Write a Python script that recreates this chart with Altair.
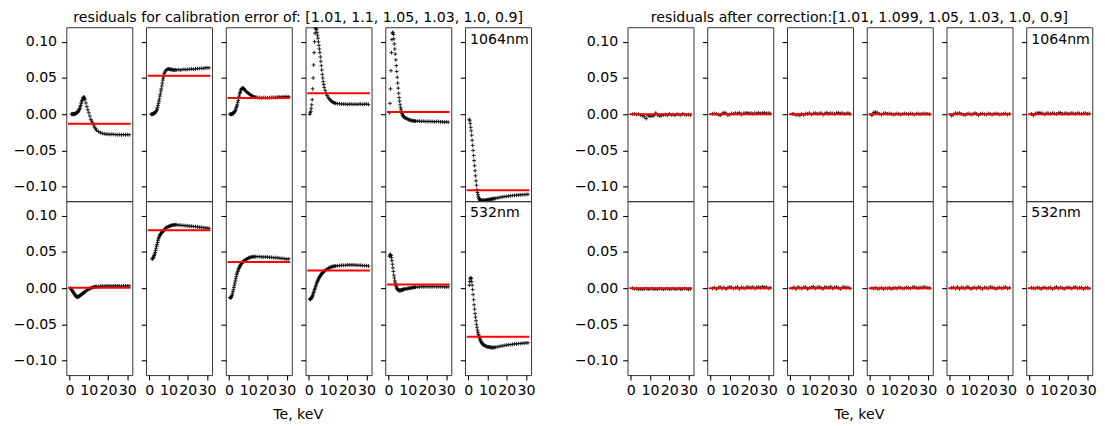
import altair as alt
import pandas as pd

FONT = "DejaVu Sans"
FS = 14.3

# ---------------- data ----------------
TE_RAW = [0.5, 0.75, 1.0, 1.25, 1.5, 1.75, 2.0, 2.25, 2.5, 2.75, 3.0, 3.25, 3.5, 3.75,
          4.0, 4.25, 4.5, 4.75, 5.0, 5.25, 5.5, 5.75, 6.0, 6.25, 6.5, 6.75, 7.0, 7.25,
          7.5, 7.75, 8.0, 8.5, 9.0, 9.5, 10.0, 10.5, 11.0, 11.5, 12.0, 12.5, 13.0, 13.5,
          14.0, 15, 16, 17, 18, 19, 20, 21, 22, 23, 24, 25, 26, 27, 28, 29, 30, 31]

TE_COR = [1, 2, 3, 4, 5, 6, 7, 8, 9, 10, 11, 12, 13, 14, 15, 16, 17, 18, 19, 20,
          21, 22, 23, 24, 25, 26, 27, 28, 29, 30, 31]

# residuals before correction, 1064nm row
RAW_1064 = [
    [None, None, 0.000, 0.000, 0.000, 0.0005, 0.000, 0.0005, 0.000, 0.0005, 0.001, 0.001, 0.0015, 0.002,
     0.0025, 0.003, 0.004, 0.005, 0.0065, 0.008, 0.010, 0.012, 0.0145, 0.017, 0.019, 0.021, 0.0225, 0.0235,
     0.0235, 0.022, 0.020, 0.0155, 0.0105, 0.006, 0.002, -0.0025, -0.007, -0.0095, -0.012, -0.015, -0.018, -0.020,
     -0.022, -0.024, -0.0255, -0.0265, -0.027, -0.0275, -0.0275, -0.028, -0.0275, -0.028, -0.028, -0.0285, -0.028,
     -0.0285, -0.028, -0.0285, -0.028, -0.0285],
    [None, None, 0.000, 0.000, 0.000, 0.000, 0.001, 0.001, 0.001, 0.002, 0.002, 0.003, 0.004, 0.005,
     0.007, 0.009, 0.012, 0.015, 0.018, 0.021, 0.025, 0.028, 0.032, 0.035, 0.039, 0.043, 0.047, 0.050,
     0.053, 0.056, 0.058, 0.060, 0.0615, 0.062, 0.0625, 0.062, 0.062, 0.0615, 0.0615, 0.061, 0.061, 0.0615,
     0.061, 0.0615, 0.061, 0.0615, 0.062, 0.0615, 0.062, 0.062, 0.0625, 0.062, 0.0625, 0.063, 0.063,
     0.0635, 0.063, 0.064, 0.064, 0.064],
    [0.000, 0.000, 0.000, 0.000, 0.000, 0.001, 0.001, 0.001, 0.002, 0.003, 0.004, 0.005, 0.007, 0.009,
     0.011, 0.013, 0.016, 0.019, 0.022, 0.025, 0.028, 0.030, 0.032, 0.034, 0.035, 0.0355, 0.036, 0.036,
     0.0355, 0.035, 0.034, 0.0325, 0.031, 0.030, 0.029, 0.028, 0.027, 0.026, 0.025, 0.0245, 0.024, 0.0235,
     0.0235, 0.023, 0.023, 0.0225, 0.023, 0.023, 0.0225, 0.023, 0.023, 0.0235, 0.023, 0.0235, 0.024,
     0.0235, 0.024, 0.024, 0.0245, 0.024],
    [0.000, 0.002, 0.004, 0.008, 0.013, 0.020, 0.035, 0.050, 0.068, 0.085, 0.100, 0.112, 0.118, 0.119,
     0.117, 0.113, 0.109, 0.105, 0.100, 0.095, 0.090, 0.085, 0.079, 0.073, 0.067, 0.061, 0.055, 0.050,
     0.045, 0.041, 0.037, 0.033, 0.029, 0.026, 0.0235, 0.0215, 0.020, 0.0185, 0.0175, 0.0165, 0.016, 0.0155,
     0.015, 0.0145, 0.0145, 0.014, 0.014, 0.014, 0.0135, 0.014, 0.014, 0.0135, 0.014, 0.0135, 0.014,
     0.014, 0.0135, 0.014, 0.014, 0.0135],
    [0.002, 0.015, 0.035, 0.060, 0.085, 0.103, 0.112, 0.113, 0.110, 0.104, 0.097, 0.090, 0.083, 0.075,
     0.067, 0.059, 0.051, 0.043, 0.036, 0.029, 0.023, 0.018, 0.013, 0.009, 0.006, 0.003, 0.001, -0.001,
     -0.002, -0.003, -0.004, -0.005, -0.0055, -0.006, -0.0068, -0.0075, -0.008, -0.0085, -0.0088, -0.009, -0.009,
     -0.0092, -0.0095, -0.0095, -0.0095, -0.010, -0.0095, -0.010, -0.010, -0.0098, -0.0102, -0.010, -0.0105,
     -0.010, -0.0102, -0.0105, -0.0105, -0.011, -0.0105, -0.011],
    [-0.007, -0.009, -0.013, -0.018, -0.023, -0.029, -0.036, -0.043, -0.050, -0.057, -0.064, -0.071, -0.078,
     -0.085, -0.092, -0.098, -0.104, -0.108, -0.111, -0.114, -0.116, -0.117, -0.118, -0.119, -0.119, -0.119,
     -0.1195, -0.1195, -0.119, -0.119, -0.119, -0.119, -0.1185, -0.1185, -0.118, -0.118, -0.1175, -0.1175,
     -0.117, -0.117, -0.1165, -0.1165, -0.116, -0.1155, -0.115, -0.1145, -0.114, -0.1137, -0.1133, -0.113,
     -0.1125, -0.1122, -0.112, -0.1117, -0.1115, -0.1113, -0.111, -0.111, -0.1108, -0.1105],
]

# residuals before correction, 532nm row
RAW_532 = [
    [0.000, -0.001, -0.002, -0.003, -0.004, -0.005, -0.006, -0.007, -0.008, -0.009, -0.010, -0.011, -0.0115,
     -0.012, -0.012, -0.012, -0.012, -0.0115, -0.011, -0.0105, -0.010, -0.0095, -0.009, -0.0085, -0.008,
     -0.0075, -0.007, -0.0065, -0.006, -0.0055, -0.005, -0.004, -0.003, -0.002, -0.0015, -0.0008, 0.000,
     0.0005, 0.001, 0.0014, 0.0018, 0.002, 0.0022, 0.0025, 0.0027, 0.003, 0.0028, 0.003, 0.0032, 0.003,
     0.0028, 0.003, 0.0032, 0.003, 0.003, 0.0028, 0.0032, 0.003, 0.003, 0.0032],
    [None, None, None, None, 0.040, 0.041, 0.042, 0.043, 0.045, 0.047, 0.049, 0.052, 0.055, 0.058,
     0.060, 0.063, 0.066, 0.068, 0.070, 0.072, 0.073, 0.074, 0.075, 0.076, 0.077, 0.078, 0.0785, 0.079,
     0.0795, 0.080, 0.081, 0.083, 0.084, 0.0845, 0.085, 0.0855, 0.086, 0.0865, 0.087, 0.087, 0.0875, 0.0875,
     0.0875, 0.087, 0.087, 0.0865, 0.0865, 0.086, 0.086, 0.0855, 0.0855, 0.085, 0.085, 0.0845, 0.084,
     0.084, 0.0835, 0.083, 0.083, 0.0825],
    [-0.013, -0.0135, -0.013, -0.012, -0.010, -0.008, -0.005, -0.002, 0.001, 0.004, 0.007, 0.010, 0.013,
     0.016, 0.019, 0.021, 0.023, 0.025, 0.027, 0.028, 0.0295, 0.031, 0.032, 0.033, 0.034, 0.035, 0.0355,
     0.036, 0.037, 0.0375, 0.038, 0.039, 0.040, 0.0405, 0.0415, 0.042, 0.0425, 0.043, 0.043, 0.0435, 0.0435,
     0.0435, 0.0435, 0.0435, 0.0435, 0.043, 0.043, 0.043, 0.043, 0.0425, 0.0425, 0.042, 0.042, 0.042,
     0.0415, 0.041, 0.041, 0.0405, 0.040, 0.0405],
    [-0.015, -0.0155, -0.015, -0.014, -0.013, -0.0115, -0.010, -0.008, -0.006, -0.004, -0.002, 0.000, 0.002,
     0.004, 0.006, 0.008, 0.0095, 0.011, 0.0125, 0.014, 0.015, 0.016, 0.017, 0.018, 0.019, 0.020, 0.021,
     0.0215, 0.022, 0.023, 0.0235, 0.0245, 0.0255, 0.026, 0.027, 0.028, 0.0285, 0.029, 0.0295, 0.030, 0.030,
     0.0305, 0.0305, 0.031, 0.031, 0.0315, 0.0315, 0.0315, 0.032, 0.032, 0.032, 0.032, 0.032, 0.0315,
     0.0315, 0.0315, 0.031, 0.031, 0.031, 0.0305],
    [0.044, 0.046, 0.0465, 0.045, 0.042, 0.038, 0.033, 0.028, 0.023, 0.018, 0.014, 0.010, 0.007, 0.004,
     0.002, 0.000, -0.001, -0.002, -0.0025, -0.003, -0.003, -0.0032, -0.0032, -0.003, -0.003, -0.0028,
     -0.0025, -0.0023, -0.002, -0.0018, -0.0015, -0.0013, -0.001, -0.0008, -0.0005, -0.0003, 0.000, 0.0002,
     0.0005, 0.0008, 0.001, 0.0012, 0.0013, 0.0015, 0.0017, 0.002, 0.0018, 0.002, 0.0022, 0.002, 0.0018,
     0.002, 0.0022, 0.002, 0.0018, 0.002, 0.002, 0.0018, 0.0015, 0.0018],
    [0.004, 0.009, 0.013, 0.0145, 0.013, 0.009, 0.004, -0.002, -0.009, -0.016, -0.023, -0.029, -0.035,
     -0.040, -0.045, -0.050, -0.054, -0.058, -0.061, -0.064, -0.066, -0.068, -0.070, -0.0715, -0.073,
     -0.0745, -0.0755, -0.0765, -0.0775, -0.078, -0.0785, -0.079, -0.080, -0.0805, -0.081, -0.081, -0.0815,
     -0.0815, -0.082, -0.082, -0.082, -0.082, -0.0815, -0.081, -0.0805, -0.080, -0.0795, -0.079, -0.0785,
     -0.078, -0.078, -0.0775, -0.077, -0.077, -0.0765, -0.0765, -0.076, -0.076, -0.0755, -0.0755],
]

RAW_MEAN_1064 = [-0.013, 0.053, 0.0225, 0.029, 0.003, -0.105]
RAW_MEAN_532 = [0.0005, 0.080, 0.036, 0.0245, 0.005, -0.067]

# residuals after correction
COR_1064 = [
    [0.000, 0.0005, -0.0005, 0.000, -0.001, -0.002, -0.0035, -0.006, -0.002, -0.003, -0.0025, -0.002, 0.0015,
     -0.001, -0.0025, -0.0015, -0.001, -0.0005, -0.0015, 0.0005, -0.001, -0.0005, -0.0015, 0.000, -0.0005,
     -0.001, 0.0005, -0.0005, -0.001, -0.0005, -0.001],
    [0.0005, 0.001, 0.0005, -0.0005, -0.0015, 0.001, 0.002, 0.0015, -0.001, -0.0005, 0.001, 0.0005, 0.0015,
     0.001, 0.002, -0.0005, 0.001, 0.0015, 0.002, 0.001, 0.0015, 0.0005, 0.0015, 0.001, 0.002, 0.001, 0.0015,
     0.002, 0.001, 0.0015, 0.001],
    [0.0005, 0.000, -0.001, -0.0005, -0.0015, 0.0005, -0.001, 0.001, 0.0005, 0.0015, -0.0005, 0.001, 0.0015,
     0.0005, 0.001, 0.0015, -0.0005, 0.001, 0.002, 0.0005, 0.0015, 0.001, 0.0005, 0.0015, 0.002, 0.001,
     0.0015, 0.0005, 0.001, 0.0015, 0.0005],
    [-0.0015, 0.0025, 0.003, 0.0015, 0.0005, -0.0005, 0.001, 0.0015, 0.0005, 0.001, 0.0005, -0.0005, 0.000,
     0.001, 0.0005, -0.0005, 0.0005, 0.001, 0.0005, 0.000, 0.001, 0.0005, -0.0005, 0.0005, 0.001, 0.000,
     0.0005, 0.001, 0.0005, 0.0005, 0.000],
    [-0.002, -0.0005, 0.0015, 0.001, 0.0015, 0.0005, -0.0005, -0.001, 0.0005, 0.001, -0.0005, 0.000, 0.0015,
     0.0005, -0.001, 0.0005, 0.001, 0.000, -0.0005, 0.001, 0.0005, -0.0005, 0.0005, 0.001, 0.0005, -0.0005,
     0.000, 0.0005, 0.001, -0.0005, 0.0005],
    [0.0005, -0.0015, 0.001, 0.0015, 0.002, 0.0015, 0.001, -0.0005, 0.0015, 0.001, 0.0005, 0.0015, 0.001,
     0.0005, 0.0015, 0.002, 0.0005, 0.001, 0.0015, 0.0005, 0.001, 0.0015, 0.001, 0.0005, 0.0015, 0.001,
     0.0005, 0.001, 0.0015, 0.0005, 0.001],
]
COR_532 = [
    [0.000, -0.001, -0.0005, -0.0015, -0.001, -0.0015, -0.001, -0.0005, -0.0015, -0.001, -0.0005, -0.0015,
     -0.001, -0.0015, -0.0005, -0.001, -0.0015, -0.001, -0.0005, -0.0015, -0.001, -0.0005, -0.0015, -0.001,
     -0.0005, -0.0015, -0.001, -0.0005, -0.001, -0.0015, -0.001],
    [-0.0005, 0.001, -0.001, 0.0005, 0.0015, -0.0005, 0.001, -0.001, 0.0005, 0.0015, 0.001, -0.0005, 0.0005,
     0.0015, -0.001, 0.001, 0.0005, -0.0005, 0.0015, 0.001, 0.0005, 0.0015, -0.0005, 0.001, 0.0015, 0.0005,
     0.002, 0.001, 0.0015, -0.0005, 0.0005],
    [0.000, 0.001, -0.001, 0.0015, 0.0005, -0.0005, 0.001, 0.0015, -0.001, 0.0005, 0.001, 0.002, -0.0005,
     0.001, 0.0015, 0.0005, -0.001, 0.0015, 0.001, 0.0005, 0.002, -0.0005, 0.001, 0.0015, 0.0005, -0.001,
     0.001, 0.0015, 0.0005, 0.001, -0.0005],
    [0.000, -0.0005, 0.0005, -0.001, -0.0005, 0.0005, -0.001, 0.000, -0.0005, 0.0005, -0.001, 0.000, 0.0005,
     -0.0005, 0.001, 0.0005, -0.0005, 0.000, 0.001, 0.0005, -0.0005, 0.001, 0.0015, 0.0005, 0.000, 0.001,
     0.0005, 0.0015, 0.001, 0.0005, 0.000],
    [0.0005, 0.001, -0.0005, 0.0015, -0.001, 0.001, 0.0005, -0.0005, 0.0015, 0.001, -0.001, 0.0005, 0.001,
     -0.0005, 0.0015, 0.0005, -0.001, 0.001, 0.0005, -0.0005, 0.0015, 0.001, 0.0005, -0.001, 0.0005, 0.001,
     -0.0005, 0.0005, 0.0015, -0.0005, 0.0005],
    [0.0005, 0.000, -0.0005, 0.001, 0.0005, -0.001, 0.0005, 0.001, -0.0005, 0.0005, 0.001, -0.001, 0.0005,
     0.0015, -0.0005, 0.001, 0.0005, -0.001, 0.0005, 0.001, 0.0005, -0.0005, 0.001, 0.0015, -0.0005, 0.0005,
     0.001, -0.001, 0.0005, 0.0005, -0.0005],
]
COR_MEAN_1064 = [0.0, 0.0, 0.0, 0.0, 0.0, 0.0]
COR_MEAN_532 = [0.0, 0.0, 0.0, 0.0, 0.0, 0.0]

MEAN_LINE_TE = [-0.8, 31.7]          # extent of the red mean lines (Te)
Y_TICKS = [-0.10, -0.05, 0.0, 0.05, 0.10]
X_TICKS = [0, 10, 20, 30]
X_DOMAIN = [-1.7, 32.6]
Y_DOMAIN = [-0.12, 0.12]

TITLE_RAW = "residuals for calibration error of: [1.01, 1.1, 1.05, 1.03, 1.0, 0.9]"
TITLE_COR = "residuals after correction:[1.01, 1.099, 1.05, 1.03, 1.0, 0.9]"
X_LABEL = "Te, keV"
ROW_LABELS = ["1064nm", "532nm"]

# ---------------- layout ----------------
PANEL_W = 66.8
PANEL_H = 176
GAP = 13.7
SPACER_W = 69.3
GROUP_CENTER = (6 * PANEL_W + 5 * GAP) / 2
PLUS = "M-1,0L1,0M0,-1L0,1"


def y_axis(show_labels):
    return alt.Axis(values=Y_TICKS, format=".2f", labels=show_labels, domain=False, grid=False,
                    ticks=True, tickSize=4.9, tickWidth=1.1, tickColor="black",
                    labelPadding=4.9, labelFontSize=FS, labelColor="black", labelFont=FONT,
                    labelFlush=False, labelOverlap=False)


def x_axis():
    return alt.Axis(values=X_TICKS, format="d", domain=False, grid=False, ticks=True,
                    tickSize=4.9, tickWidth=1.1, tickColor="black", labelPadding=4.0,
                    labelFontSize=FS, labelColor="black", labelFont=FONT,
                    labelFlush=False, labelOverlap=False)


def panel(te, res, level, first, bottom, label=None, title_text=None, xlabel=None):
    n = min(len(te), len(res))
    df = pd.DataFrame({"Te": te[:n], "res": res[:n]}).dropna()
    ref = pd.DataFrame({"x0": [MEAN_LINE_TE[0]], "x1": [MEAN_LINE_TE[1]], "level": [level]})
    xs = alt.Scale(domain=X_DOMAIN, nice=False, zero=False)
    ys = alt.Scale(domain=Y_DOMAIN, nice=False, zero=False)
    xa = x_axis() if bottom else None
    ya = y_axis(first)
    pts = alt.Chart(df).mark_point(shape=PLUS, size=15, filled=False, color="black",
                                   strokeWidth=0.95, opacity=0.9, clip=True).encode(
        x=alt.X("Te:Q", scale=xs, axis=xa, title=None),
        y=alt.Y("res:Q", scale=ys, axis=ya, title=None),
    )
    line = alt.Chart(ref).mark_rule(color="#ff0000", strokeWidth=2.0, clip=True).encode(
        x=alt.X("x0:Q", scale=xs, axis=xa, title=None),
        x2="x1:Q",
        y=alt.Y("level:Q", scale=ys, axis=ya, title=None),
    )
    layers = [pts, line]
    if label:
        layers.append(alt.Chart(ref).mark_text(text=label, align="left", baseline="alphabetic",
                                               fontSize=FS, font=FONT, color="black").encode(
            x=alt.value(5.0), y=alt.value(17.0 if not bottom else 16.0)))
    if title_text:
        layers.append(alt.Chart(ref).mark_text(text=title_text, align="center", baseline="alphabetic",
                                               fontSize=FS, font=FONT, color="black").encode(
            x=alt.value(GROUP_CENTER), y=alt.value(-5)))
    if xlabel:
        layers.append(alt.Chart(ref).mark_text(text=xlabel, align="center", baseline="alphabetic",
                                               fontSize=FS, font=FONT, color="black").encode(
            x=alt.value(GROUP_CENTER), y=alt.value(PANEL_H + 44.0)))
    return alt.layer(*layers).properties(width=PANEL_W, height=PANEL_H)


def spacer():
    d = pd.DataFrame({"v": [0]})
    return alt.Chart(d).mark_text(text=" ", opacity=0).encode(
        x=alt.value(0), y=alt.value(0)
    ).properties(width=SPACER_W, height=PANEL_H, view=alt.ViewBackground(stroke="transparent"))


cells = []
for row, (raw, rmean, cor, cmean) in enumerate([
        (RAW_1064, RAW_MEAN_1064, COR_1064, COR_MEAN_1064),
        (RAW_532, RAW_MEAN_532, COR_532, COR_MEAN_532)]):
    bottom = row == 1
    for i in range(6):
        cells.append(panel(TE_RAW, raw[i], rmean[i], i == 0, bottom,
                           label=ROW_LABELS[row] if i == 5 else None,
                           title_text=TITLE_RAW if (i == 0 and row == 0) else None,
                           xlabel=X_LABEL if (i == 0 and row == 1) else None))
    cells.append(spacer())
    for i in range(6):
        cells.append(panel(TE_COR, cor[i], cmean[i], i == 0, bottom,
                           label=ROW_LABELS[row] if i == 5 else None,
                           title_text=TITLE_COR if (i == 0 and row == 0) else None,
                           xlabel=X_LABEL if (i == 0 and row == 1) else None))

chart = alt.ConcatChart(
    concat=cells, columns=13,
    spacing={"row": 0, "column": GAP},
    bounds="flush", align="each",
    padding={"left": 4, "top": 0, "right": 0, "bottom": 0},
).configure(font=FONT).configure_view(stroke="#333333", strokeWidth=1)

chart.save("out.html", embed_options={"renderer": "svg", "actions": False})
